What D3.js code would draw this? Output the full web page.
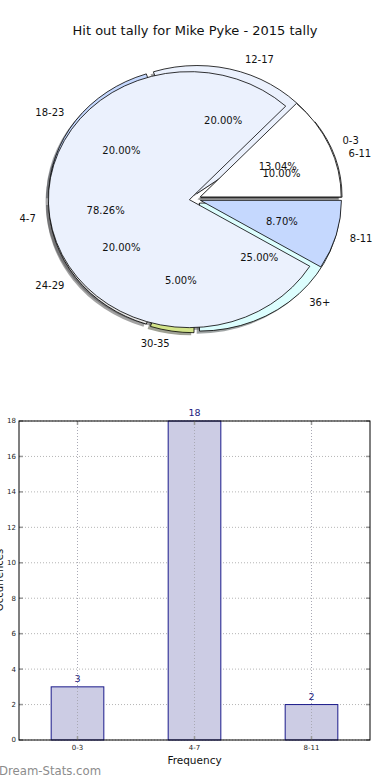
<!DOCTYPE html>
<html>
<head>
<meta charset="utf-8">
<script src="https://cdn.jsdelivr.net/npm/d3@7"></script>
<style>
  body { margin: 0; background: #fff; }
  svg { display: block; font-family: "DejaVu Sans", sans-serif; }
</style>
</head>
<body>
<svg id="chart" width="390" height="780"></svg>
<script>
// data
var pieLabelsA = ['0-3', '4-7', '8-11'];
var pieValuesA = [3, 18, 2];
var pieColorsA = ['#ffffff', '#ebf1fd', '#c5d8fe'];

var pieLabelsB = ['6-11', '12-17', '18-23', '24-29', '30-35', '36+'];
var pieValuesB = [2, 4, 4, 4, 1, 5];
var pieColorsB = ['#ffffff', '#ebf1fd', '#c5d8fe', '#e6e6e6', '#d3e48a', '#dcfefe'];

var barCats = ['0-3', '4-7', '8-11'];
var barValues = [3, 18, 2];
var yTicks = [0, 2, 4, 6, 8, 10, 12, 14, 16, 18];

var svg = d3.select('#chart');

svg.append('text')
  .attr('x', 195)
  .attr('y', 35)
  .attr('text-anchor', 'middle')
  .style('font-size', '13px')
  .style('fill', '#111')
  .text('Hit out tally for Mike Pyke - 2015 tally');

// ---- pies (ellipse, matplotlib style: start at 3 o'clock, counter clockwise)
var cx = 195, cy = 199, rx = 141, ry = 128;

var pie = d3.pie().sort(null)
  .startAngle(Math.PI / 2)
  .endAngle(Math.PI / 2 - 2 * Math.PI);
var arc = d3.arc().innerRadius(0).outerRadius(1);

function build(labels, values, colors, explode) {
  var total = d3.sum(values);
  return pie(values).map(function(d, i) {
    var m = (d.startAngle + d.endAngle) / 2;
    var ux = Math.sin(m), uy = -Math.cos(m);
    return {
      arc: d, label: labels[i], color: colors[i],
      pct: d3.format('.2f')(values[i] / total * 100) + '%',
      ux: ux, uy: uy,
      ox: cx + explode * rx * ux,
      oy: cy + explode * ry * uy
    };
  });
}

var slicesB = build(pieLabelsB, pieValuesB, pieColorsB, 0.045);
var slicesA = build(pieLabelsA, pieValuesA, pieColorsA, 0.04);
var allSlices = slicesB.concat(slicesA);

function shade(c) {
  var col = d3.rgb(c);
  return 'rgba(' + Math.round(col.r * 0.3) + ',' + Math.round(col.g * 0.3) + ',' + Math.round(col.b * 0.3) + ',0.5)';
}

var pieG = svg.append('g');

// shadows first, under both pies
pieG.selectAll('path.shadow')
  .data(allSlices)
  .enter()
  .append('path')
  .attr('class', 'shadow')
  .attr('d', function(d) { return arc(d.arc); })
  .attr('transform', function(d) {
    return 'translate(' + (d.ox - 0.02 * rx) + ',' + (d.oy + 0.02 * ry) + ') scale(' + rx + ',' + ry + ')';
  })
  .style('fill', function(d) { return shade(d.color); })
  .style('stroke', 'none');

function drawWedges(slices, cls) {
  pieG.selectAll('path.' + cls)
    .data(slices)
    .enter()
    .append('path')
    .attr('class', cls)
    .attr('d', function(d) { return arc(d.arc); })
    .attr('transform', function(d) {
      return 'translate(' + d.ox + ',' + d.oy + ') scale(' + rx + ',' + ry + ')';
    })
    .attr('vector-effect', 'non-scaling-stroke')
    .style('fill', function(d) { return d.color; })
    .style('stroke', '#000')
    .style('stroke-width', 0.8);
}
drawWedges(slicesB, 'wedgeB');
drawWedges(slicesA, 'wedgeA');

// category labels at 1.1 radius
svg.selectAll('text.plabel')
  .data(allSlices)
  .enter()
  .append('text')
  .attr('class', 'plabel')
  .attr('x', function(d) { return d.ox + 1.1 * rx * d.ux; })
  .attr('y', function(d) { return d.oy + 1.1 * ry * d.uy; })
  .attr('dy', '0.36em')
  .attr('text-anchor', function(d) { return d.ux > 0 ? 'start' : 'end'; })
  .style('font-size', '10px')
  .style('fill', '#111')
  .text(function(d) { return d.label; });

// percentages at 0.6 radius
svg.selectAll('text.pct')
  .data(allSlices)
  .enter()
  .append('text')
  .attr('class', 'pct')
  .attr('x', function(d) { return d.ox + 0.6 * rx * d.ux; })
  .attr('y', function(d) { return d.oy + 0.6 * ry * d.uy; })
  .attr('dy', '0.36em')
  .attr('text-anchor', 'middle')
  .style('font-size', '10px')
  .style('fill', '#111')
  .text(function(d) { return d.pct; });

// ---- bar chart
var plotL = 19, plotR = 370, plotT = 421, plotB = 740;

var x = d3.scalePoint()
  .domain(barCats)
  .range([plotL, plotR])
  .padding(0.5);
var barW = x.step() * 0.45;

var y = d3.scaleLinear()
  .domain([0, 18])
  .range([plotB, plotT]);

var bars = svg.append('g');

// grid
bars.selectAll('line.hgrid')
  .data(yTicks)
  .enter()
  .append('line')
  .attr('x1', plotL).attr('x2', plotR)
  .attr('y1', function(d) { return y(d); })
  .attr('y2', function(d) { return y(d); })
  .style('stroke', '#b5b5b5')
  .style('stroke-dasharray', '1,2');

bars.selectAll('rect.bar')
  .data(barValues)
  .enter()
  .append('rect')
  .attr('class', 'bar')
  .attr('x', function(d, i) { return x(barCats[i]) - barW / 2; })
  .attr('y', function(d) { return y(d); })
  .attr('width', barW)
  .attr('height', function(d) { return y(0) - y(d); })
  .style('fill', '#ccccE4')
  .style('stroke', '#1a1a8a')
  .style('stroke-width', 1);

bars.selectAll('line.vgrid')
  .data(barCats)
  .enter()
  .append('line')
  .attr('x1', function(d) { return x(d); })
  .attr('x2', function(d) { return x(d); })
  .attr('y1', plotT).attr('y2', plotB)
  .style('stroke', '#a9a9b5')
  .style('stroke-dasharray', '1,2');

bars.selectAll('text.val')
  .data(barValues)
  .enter()
  .append('text')
  .attr('x', function(d, i) { return x(barCats[i]); })
  .attr('y', function(d) { return y(d) - 5; })
  .attr('text-anchor', 'middle')
  .style('font-size', '9.5px')
  .style('fill', '#1c1c80')
  .text(function(d) { return d; });

// tick marks, inward on all four sides
var tickLen = 4;
yTicks.forEach(function(t) {
  bars.append('line').attr('x1', plotL).attr('x2', plotL + tickLen)
    .attr('y1', y(t)).attr('y2', y(t)).style('stroke', '#999').style('stroke-width', 1.5);
  bars.append('line').attr('x1', plotR - tickLen).attr('x2', plotR)
    .attr('y1', y(t)).attr('y2', y(t)).style('stroke', '#999').style('stroke-width', 1.5);
});
barCats.forEach(function(c) {
  bars.append('line').attr('x1', x(c)).attr('x2', x(c))
    .attr('y1', plotT).attr('y2', plotT + tickLen).style('stroke', '#999').style('stroke-width', 1.5);
  bars.append('line').attr('x1', x(c)).attr('x2', x(c))
    .attr('y1', plotB - tickLen).attr('y2', plotB).style('stroke', '#999').style('stroke-width', 1.5);
});

bars.append('rect')
  .attr('x', plotL).attr('y', plotT)
  .attr('width', plotR - plotL).attr('height', plotB - plotT)
  .style('fill', 'none')
  .style('stroke', '#000')
  .style('stroke-width', 1);

bars.selectAll('text.ytick')
  .data(yTicks)
  .enter()
  .append('text')
  .attr('x', plotL - 3)
  .attr('y', function(d) { return y(d); })
  .attr('dy', '0.35em')
  .attr('text-anchor', 'end')
  .style('font-size', '7px')
  .style('fill', '#222')
  .text(function(d) { return d; });

bars.selectAll('text.xtick')
  .data(barCats)
  .enter()
  .append('text')
  .attr('x', function(d) { return x(d); })
  .attr('y', plotB + 10)
  .attr('text-anchor', 'middle')
  .style('font-size', '7px')
  .style('fill', '#222')
  .text(function(d) { return d; });

svg.append('text')
  .attr('x', (plotL + plotR) / 2)
  .attr('y', 764)
  .attr('text-anchor', 'middle')
  .style('font-size', '10.5px')
  .style('fill', '#111')
  .text('Frequency');

svg.append('text')
  .attr('transform', 'translate(3,580) rotate(-90)')
  .attr('text-anchor', 'middle')
  .style('font-size', '10px')
  .style('fill', '#111')
  .text('Occurrences');

svg.append('text')
  .attr('x', -1)
  .attr('y', 775)
  .style('font-size', '11.7px')
  .style('fill', '#8c8c8c')
  .text('Dream-Stats.com');
</script>
</body>
</html>
